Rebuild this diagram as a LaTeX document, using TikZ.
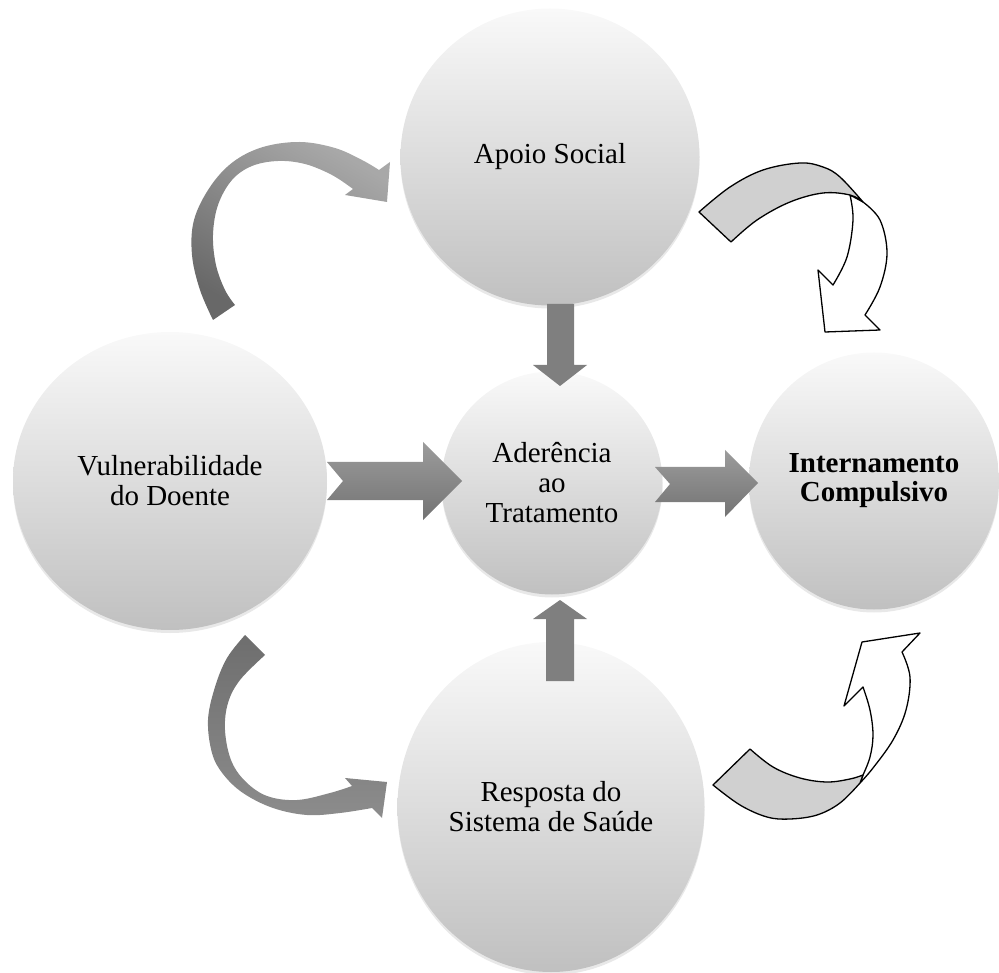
\documentclass[tikz,border=0pt]{standalone}
\usepackage{fontspec}
\setmainfont{Liberation Serif}
\usetikzlibrary{shapes.geometric,shadows}
\definecolor{circtop}{HTML}{F9F9F9}
\definecolor{circmid}{HTML}{E3E3E3}
\definecolor{circbot}{HTML}{C0C0C0}
\definecolor{bandgray}{HTML}{D0D0D0}
\definecolor{vgray}{HTML}{7F7F7F}
\definecolor{htop}{HTML}{9C9C9C}
\definecolor{hbot}{HTML}{737373}
\definecolor{tlA}{HTML}{A8A8A8}
\definecolor{tlB}{HTML}{686868}
\definecolor{blA}{HTML}{6E6E6E}
\definecolor{blB}{HTML}{8C8C8C}
\begin{document}
\begin{tikzpicture}[x=1pt,y=-1pt,
  circ/.style={ellipse, inner sep=0pt, outer sep=0pt, align=center,
    top color=circtop, middle color=circmid, bottom color=circbot, draw=none,
    font=\fontsize{29}{30}\selectfont,
    drop shadow={shadow xshift=0pt, shadow yshift=-3pt, opacity=0.18}},
  vblock/.style={fill=vgray},
  hblock/.style={top color=htop, bottom color=hbot},
  outl/.style={draw=black, line width=1.3pt, line join=round}]
\useasboundingbox (0,0) rectangle (999,973);

% circles
\node[circ, minimum width=299pt, minimum height=297pt] (apoio) at (550,157) {Apoio Social};
\node[circ, minimum width=314pt, minimum height=298pt] (vuln) at (170,481) {Vulnerabilidade\\do Doente};
\node[circ, minimum width=221pt, minimum height=223pt] (ader) at (552,483) {Aderência\\ao\\Tratamento};
\node[circ, minimum width=250pt, minimum height=257pt, font=\fontsize{29}{29}\selectfont\bfseries] (intern) at (874,481) {Internamento\\Compulsivo};
\node[circ, minimum width=307pt, minimum height=330pt] (resp) at (551,807) {Resposta do\\Sistema de Saúde};

% straight block arrows
\fill[vblock] (547,304) -- (574,304) -- (574,365) -- (587,365) -- (560,386) -- (533,365) -- (547,365) -- cycle;
\fill[vblock] (546,681) -- (574,681) -- (574,619) -- (587,619) -- (560,600) -- (533,619) -- (546,619) -- cycle;
\shade[hblock] (327,462) -- (423,462) -- (423,442) -- (462,481) -- (423,520) -- (423,500) -- (327,500) -- (343,481) -- cycle;
\shade[hblock] (655,467) -- (725,467) -- (725,450) -- (758,483) -- (725,517) -- (725,502) -- (655,502) -- (670,484) -- cycle;

% top-left curved arrow
\shade[top color=tlA, bottom color=tlB, shading angle=-30]
  (213,320) -- plot[smooth, tension=0.6] coordinates {(213,320) (200,290) (192,255) (194,220) (210,187) (233,162) (263,147) (300,142) (335,148) (362,160) (379,170)}
  -- (390,162) -- (387,202) -- (345,195)
  -- plot[smooth, tension=0.6] coordinates {(353,189) (332,175) (305,164) (278,161) (252,166) (232,180) (218,205) (213,235) (216,265) (225,290) (235,305)}
  -- cycle;

% bottom-left curved arrow
\shade[top color=blA, bottom color=blB]
  (245,635) -- plot[smooth, tension=0.6] coordinates {(245,635) (227,658) (215,687) (208,720) (212,753) (223,774) (243,793) (273,808) (307,815) (340,813) (372,808)}
  -- (382,818) -- (387,782) -- (345,778)
  -- plot[smooth, tension=0.6] coordinates {(352,786) (330,793) (297,800) (267,796) (245,781) (231,760) (225,730) (228,703) (240,680) (265,655)}
  -- cycle;

% top-right outlined curved arrow
\path[outl, fill=white]
  (863,202) -- plot[smooth, tension=0.6] coordinates {(863,202) (880,220) (887,253) (880,287) (865,315)}
  -- (880,330) -- (825,332) -- (818,270) -- (833,285)
  -- plot[smooth, tension=0.6] coordinates {(833,285) (847,257) (853,220) (850,195)}
  -- cycle;
\path[outl, fill=bandgray]
  (699,212) -- plot[smooth, tension=0.6] coordinates {(699,212) (730,187) (763,170) (800,163) (823,167) (840,177) (863,202)}
  -- plot[smooth, tension=0.6] coordinates {(863,202) (850,195) (823,193) (790,202) (757,220) (731,242)}
  -- cycle;

% bottom-right outlined curved arrow
\path[outl, fill=white]
  (860,783) -- plot[smooth, tension=0.6] coordinates {(860,783) (873,768) (893,740) (906,710) (910,677) (902,652)}
  -- (920,633) -- (862,642) -- (844,706) -- (863,687)
  -- plot[smooth, tension=0.6] coordinates {(863,687) (870,710) (873,735) (870,757) (863,775)}
  -- cycle;
\path[outl, fill=bandgray]
  (750,749) -- plot[smooth, tension=0.6] coordinates {(750,749) (773,767) (800,778) (827,782) (850,779) (863,775)}
  -- (860,783)
  -- plot[smooth, tension=0.6] coordinates {(860,783) (840,803) (817,815) (790,819) (767,817) (740,805) (713,785)}
  -- cycle;
\end{tikzpicture}
\end{document}
